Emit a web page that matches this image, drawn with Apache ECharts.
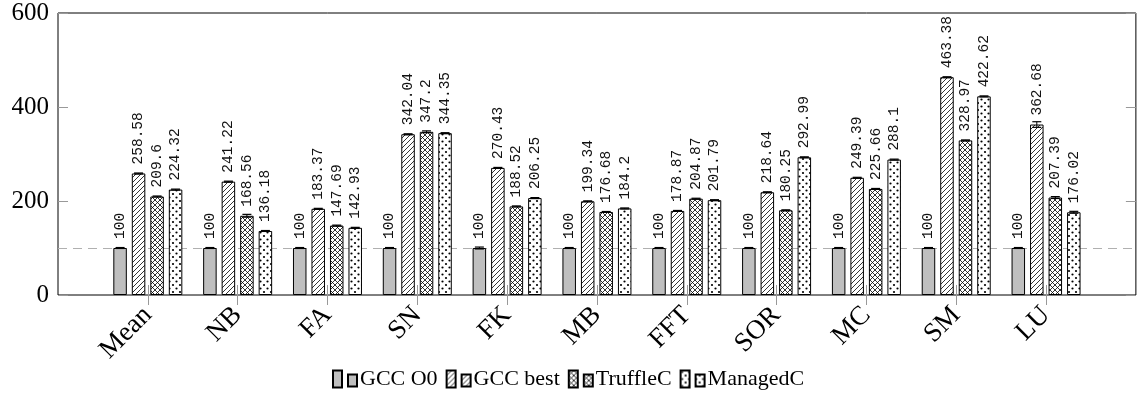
<!DOCTYPE html>
<html>
<head>
<meta charset="utf-8">
<script src="https://cdn.jsdelivr.net/npm/echarts@6/dist/echarts.min.js"></script>
<style>
  html, body { margin: 0; padding: 0; background: #fff; }
  #chart { width: 1138px; height: 396px; }
</style>
</head>
<body>
<div id="chart"></div>
<script>
// benchmarks (empty slots at both ends pad the axis like pgfplots' enlarged limits)
const categories = ['', 'Mean', 'NB', 'FA', 'SN', 'FK', 'MB', 'FFT', 'SOR', 'MC', 'SM', 'LU', ''];
const gccO0 = ['-', 100, 100, 100, 100, 100, 100, 100, 100, 100, 100, 100, '-'];
const gccBest = ['-', 258.58, 241.22, 183.37, 342.04, 270.43, 199.34, 178.87, 218.64, 249.39, 463.38, 362.68, '-'];
const truffleC = ['-', 209.6, 168.56, 147.69, 347.2, 188.52, 176.68, 204.87, 180.25, 225.66, 328.97, 207.39, '-'];
const managedC = ['-', 224.32, 136.18, 142.93, 344.35, 206.25, 184.2, 201.79, 292.99, 288.1, 422.62, 176.02, '-'];
// error bar half-widths
const errO0 = [0, 1, 1, 1, 1, 2, 1, 1, 1, 1, 1, 1, 0];
const errBest = [0, 1, 1, 1, 1, 1, 1, 1, 1, 1, 1, 6, 0];
const errTruffle = [0, 1, 3, 1, 2, 1, 1, 1, 1, 1, 1, 2, 0];
const errManaged = [0, 1, 1, 1, 1, 1, 1, 1, 1, 1, 1, 2, 0];
const yTicks = [0, 200, 400, 600];

const seriesNames = ['GCC O0', 'GCC best', 'TruffleC', 'ManagedC'];

function makePattern(kind) {
  const c = document.createElement('canvas');
  const s = kind === 'dots' ? 7 : 5;
  c.width = s; c.height = s;
  const ctx = c.getContext('2d');
  ctx.fillStyle = '#fff';
  ctx.fillRect(0, 0, s, s);
  ctx.strokeStyle = '#000';
  ctx.fillStyle = '#000';
  ctx.lineWidth = 0.8;
  if (kind === 'ne' || kind === 'cross') {
    ctx.beginPath();
    ctx.moveTo(0, s); ctx.lineTo(s, 0);
    ctx.moveTo(-1, 1); ctx.lineTo(1, -1);
    ctx.moveTo(s - 1, s + 1); ctx.lineTo(s + 1, s - 1);
    ctx.stroke();
  }
  if (kind === 'cross') {
    ctx.beginPath();
    ctx.moveTo(0, 0); ctx.lineTo(s, s);
    ctx.moveTo(s - 1, -1); ctx.lineTo(s + 1, 1);
    ctx.moveTo(-1, s - 1); ctx.lineTo(1, s + 1);
    ctx.stroke();
  }
  if (kind === 'dots') {
    ctx.beginPath(); ctx.arc(1.5, 1.5, 1.1, 0, Math.PI * 2); ctx.fill();
    ctx.beginPath(); ctx.arc(5, 5, 1.1, 0, Math.PI * 2); ctx.fill();
  }
  return { image: c, repeat: 'repeat' };
}

const fills = [
  '#bfbfbf',
  makePattern('ne'),
  makePattern('cross'),
  makePattern('dots')
];

const barW = 13.5, barGapPx = 5;
const offsets = [0, 1, 2, 3].map(i => -(4 * barW + 3 * barGapPx) / 2 + i * (barW + barGapPx) + barW / 2);

function barSeries(name, data, idx) {
  return {
    name: name,
    type: 'bar',
    data: data,
    barWidth: barW,
    barGap: (barGapPx / barW * 100) + '%',
    itemStyle: { color: fills[idx], borderColor: '#000', borderWidth: 1 },
    label: {
      show: true,
      position: 'top',
      rotate: 90,
      align: 'left',
      verticalAlign: 'middle',
      distance: 9,
      fontFamily: 'Liberation Mono',
      fontSize: 14.5,
      color: '#111'
    },
    z: 2
  };
}

const errData = [];
[[gccO0, errO0], [gccBest, errBest], [truffleC, errTruffle], [managedC, errManaged]].forEach((pair, s) => {
  pair[0].forEach((v, i) => {
    if (v !== '-') errData.push([i, v, pair[1][i], s]);
  });
});

const series = [
  barSeries(seriesNames[0], gccO0, 0),
  barSeries(seriesNames[1], gccBest, 1),
  barSeries(seriesNames[2], truffleC, 2),
  barSeries(seriesNames[3], managedC, 3),
  {
    type: 'custom',
    name: 'err',
    data: errData,
    z: 5,
    silent: true,
    renderItem: function (params, api) {
      const i = api.value(0), v = api.value(1), e = api.value(2), s = api.value(3);
      const hi = api.coord([i, v + e]);
      const lo = api.coord([i, v - e]);
      const x = hi[0] + offsets[s];
      const cap = 4.5;
      return {
        type: 'group',
        children: [
          { type: 'line', shape: { x1: x, y1: hi[1], x2: x, y2: lo[1] }, style: { stroke: '#000', lineWidth: 1 } },
          { type: 'line', shape: { x1: x - cap, y1: hi[1], x2: x + cap, y2: hi[1] }, style: { stroke: '#000', lineWidth: 1.2 } },
          { type: 'line', shape: { x1: x - cap, y1: lo[1], x2: x + cap, y2: lo[1] }, style: { stroke: '#000', lineWidth: 1.2 } }
        ]
      };
    }
  }
];

series[0].markLine = {
  silent: true,
  symbol: 'none',
  label: { show: false },
  lineStyle: { color: '#b0b0b0', type: [9, 6], width: 1 },
  data: [{ yAxis: 100 }],
  z: 1
};

const legendIcon = 'path://M0,0h9v17h-9z M15,4h9v12h-9z';

const chart = echarts.init(document.getElementById('chart'));
chart.setOption({
  animation: false,
  backgroundColor: '#fff',
  grid: {
    left: 58, right: -6, top: 13, bottom: 101,
    show: true, borderColor: '#000', borderWidth: 1,
    containLabel: false
  },
  legend: {
    data: seriesNames,
    left: 327,
    top: 363,
    icon: legendIcon,
    itemWidth: 24,
    itemHeight: 17,
    itemGap: 8,
    textStyle: { fontFamily: 'Liberation Serif', fontSize: 22, color: '#000', padding: [0, 0, 0, -2] }
  },
  xAxis: [
    {
      type: 'category',
      data: categories,
      boundaryGap: false,
      axisLine: { show: false },
      axisTick: {
        show: true,
        length: 10,
        lineStyle: { color: '#999' },
        interval: (idx, val) => val !== ''
      },
      axisLabel: {
        rotate: 45,
        margin: 16,
        fontFamily: 'Liberation Serif',
        fontSize: 27,
        color: '#000',
        interval: 0
      },
      splitLine: { show: false }
    },
    {
      type: 'category',
      data: categories,
      position: 'top',
      boundaryGap: false,
      axisLine: { show: false },
      axisTick: {
        show: true,
        length: 10,
        lineStyle: { color: '#999' },
        interval: (idx, val) => val !== ''
      },
      axisLabel: { show: false },
      splitLine: { show: false }
    }
  ],
  yAxis: [
    {
      type: 'value',
      min: yTicks[0],
      max: yTicks[yTicks.length - 1],
      interval: 200,
      axisLine: { show: false },
      axisTick: { show: true, inside: true, length: 10, lineStyle: { color: '#999' } },
      axisLabel: { margin: 9, fontFamily: 'Liberation Serif', fontSize: 25, color: '#000' },
      splitLine: { show: false }
    },
    {
      type: 'value',
      position: 'right',
      min: yTicks[0],
      max: yTicks[yTicks.length - 1],
      interval: 200,
      axisLine: { show: false },
      axisTick: { show: true, inside: true, length: 10, lineStyle: { color: '#999' } },
      axisLabel: { show: false },
      splitLine: { show: false }
    }
  ],
  series: series
});
</script>
</body>
</html>
